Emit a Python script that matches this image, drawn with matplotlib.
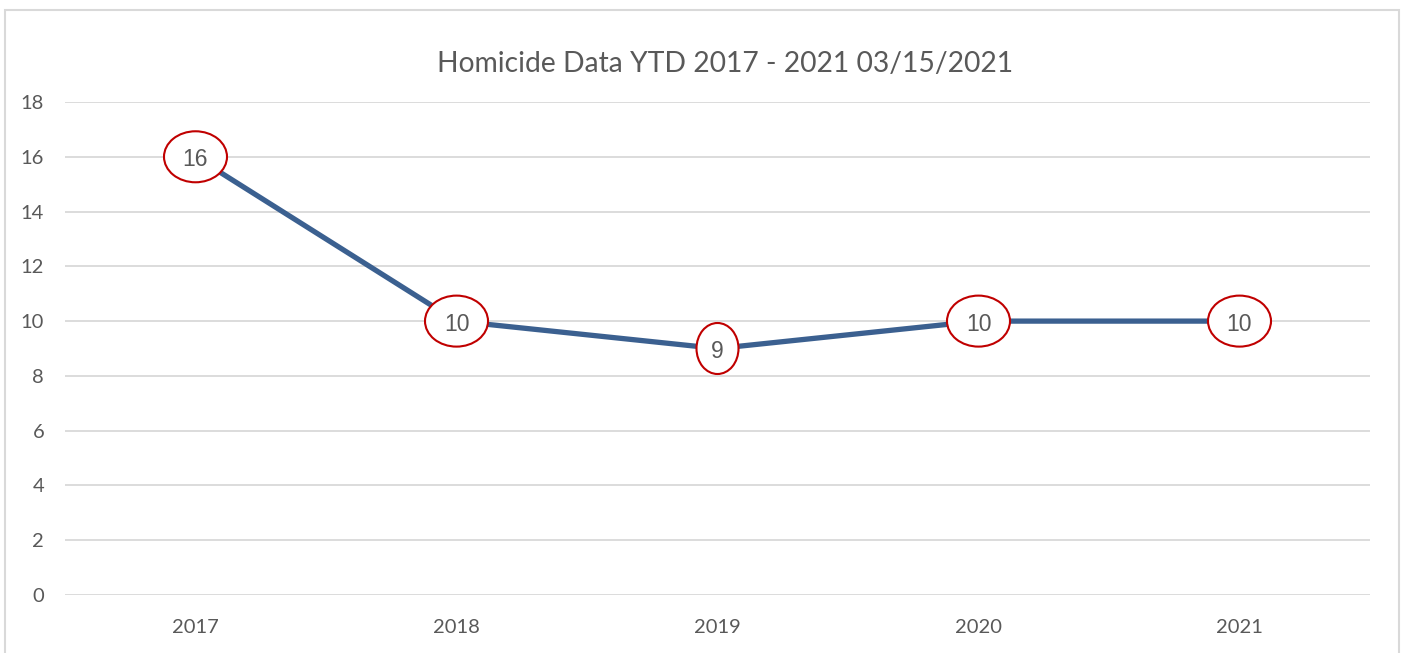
import matplotlib
matplotlib.use("Agg")
import matplotlib.pyplot as plt
from matplotlib.patches import Ellipse, Rectangle
from matplotlib import transforms

years = ["2017", "2018", "2019", "2020", "2021"]
homicides = [16, 10, 9, 10, 10]
yticks = [0, 2, 4, 6, 8, 10, 12, 14, 16, 18]
title = "Homicide Data YTD 2017 - 2021 03/15/2021"

W, H = 1405, 653
fig = plt.figure(figsize=(W / 100, H / 100), dpi=100)
fig.patch.set_facecolor("white")

# outer chart border
fig.patches.append(Rectangle((5 / W, -0.2), 1394 / W, 1.2 - 10 / H,
                             transform=fig.transFigure, fill=False,
                             edgecolor="#D9D9D9", linewidth=1.5, clip_on=False))

ax = fig.add_axes([65 / W, 1 - 595 / H, 1305 / W, 493 / H])
x = list(range(len(years)))
ax.plot(x, homicides, color="#3B6090", linewidth=3.8, zorder=3,
        solid_capstyle="butt")

ax.set_xlim(-0.5, len(years) - 0.5)
ax.set_ylim(0, 18)
ax.set_yticks(yticks)
ax.set_xticks(x)
ax.set_xticklabels(years)
ax.grid(axis="y", color="#D9D9D9", linewidth=1.3)
ax.set_axisbelow(True)
for s in ax.spines.values():
    s.set_visible(False)
ax.tick_params(length=0, labelsize=14.5, labelcolor="#595959")
ax.tick_params(axis="x", pad=17)
ax.tick_params(axis="y", pad=15)
for lab in ax.get_xticklabels() + ax.get_yticklabels():
    lab.set_fontfamily("Lato")

text_tr = transforms.offset_copy(ax.transData, fig=fig, x=0, y=-3, units="dots")
for xi, v in zip(x, homicides):
    lab = str(v)
    w_px = 21 + 21 * len(lab)
    h_px = 51
    tr = fig.dpi_scale_trans + transforms.ScaledTranslation(xi, v, ax.transData)
    e = Ellipse((0, 0), w_px / 100, h_px / 100, transform=tr,
                facecolor="white", edgecolor="#C00000", linewidth=1.5,
                zorder=4, clip_on=False)
    ax.add_artist(e)
    ax.text(xi, v, lab, ha="center", va="center", fontsize=16.5,
            color="#595959", family="Liberation Sans", zorder=5,
            transform=text_tr)

fig.text(725 / W, 1 - 64 / H, title, ha="center", va="center",
         fontsize=20.3, color="#595959", family="Lato")

fig.savefig("out.png", dpi=100)
